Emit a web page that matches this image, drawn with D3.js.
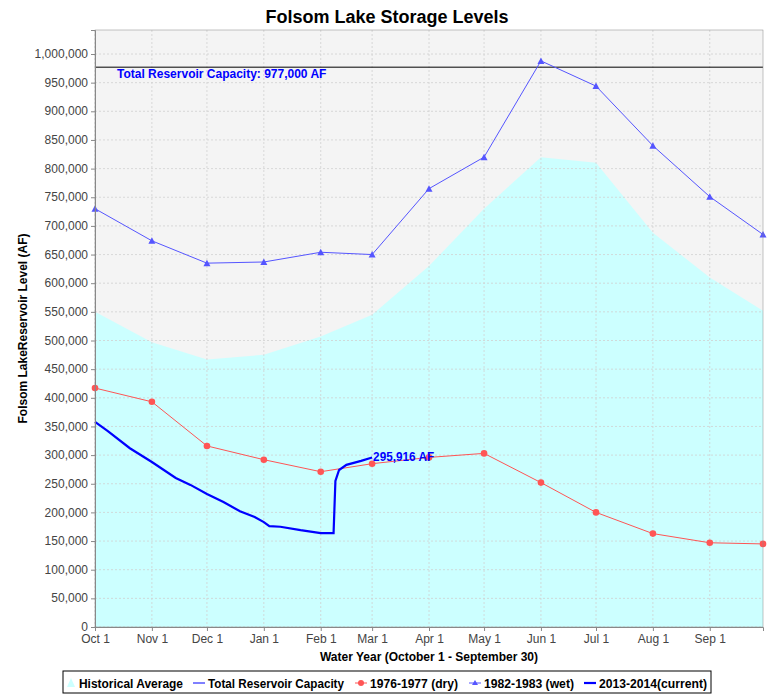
<!DOCTYPE html>
<html><head><meta charset="utf-8">
<script src="https://cdn.jsdelivr.net/npm/d3@7"></script>
<style>body{margin:0;background:#fff;font-family:"Liberation Sans",Arial,sans-serif}</style>
</head><body><svg id="c" width="775" height="700"></svg>
<script>
const monthTicks = ["2013-10-01","2013-11-01","2013-12-01","2014-01-01","2014-02-01","2014-03-01","2014-04-01","2014-05-01","2014-06-01","2014-07-01","2014-08-01","2014-09-01","2014-09-30"];
const tickLabels = ["Oct 1","Nov 1","Dec 1","Jan 1","Feb 1","Mar 1","Apr 1","May 1","Jun 1","Jul 1","Aug 1","Sep 1"];
const historicalAvg = [550000,497000,467000,475000,507000,545000,630000,730000,820000,810000,688000,610000,552000];
const dry7677 = [417000,393000,316000,292000,271000,285000,296000,303000,252000,200000,163000,147000,145000];
const wet8283 = [730000,674000,635000,637000,654000,650000,765000,820000,988000,944000,840000,751000,685000];
const currentDates = ["2013-10-01","2013-10-08","2013-10-20","2013-11-01","2013-11-14","2013-11-22","2013-12-01","2013-12-10","2013-12-19","2013-12-27","2014-01-01","2014-01-04","2014-01-10","2014-01-21","2014-02-01","2014-02-08","2014-02-09","2014-02-11","2014-02-15","2014-02-23","2014-03-01"];
const currentVals = [358000,342000,312000,288000,260000,248000,232000,218000,202000,192000,183000,176000,175000,169000,164000,164000,255000,274000,283000,290000,295916];
const capacity = 977000;

const svg = d3.select("#c");
const L=95,R=763,T=30,B=627;
const pt = d3.timeParse("%Y-%m-%d");
const x = d3.scaleTime().domain([pt(monthTicks[0]), pt(monthTicks[12])]).range([L,R]);
const y = d3.scaleLinear().domain([0, 1000000*(B-T)/573]).range([B,T]);

svg.append("rect").attr("x",L).attr("y",T).attr("width",R-L).attr("height",B-T).attr("fill","#f4f4f4");
const yt = d3.range(0,1000001,50000);
const md = monthTicks.map(pt);
svg.append("path").datum(historicalAvg).attr("fill","#ccffff")
  .attr("d", d3.area().x((d,i)=>x(md[i])).y0(B).y1(d=>y(d)));
yt.forEach(v=>svg.append("line").attr("x1",L).attr("x2",R).attr("y1",y(v)).attr("y2",y(v)).attr("stroke","#d0d0d0").attr("stroke-dasharray","2,2").attr("stroke-width",0.8));
md.slice(0,12).forEach(d=>svg.append("line").attr("x1",x(d)).attr("x2",x(d)).attr("y1",T).attr("y2",B).attr("stroke","#d0d0d0").attr("stroke-dasharray","2,2").attr("stroke-width",0.8));

svg.append("line").attr("x1",L).attr("x2",R).attr("y1",y(capacity)).attr("y2",y(capacity)).attr("stroke","#000");
svg.append("text").attr("x",117).attr("y",y(capacity)+11).attr("fill","#0000ff").attr("font-weight","bold").attr("font-size",12).text("Total Reservoir Capacity: 977,000 AF");

const line = d3.line().x((d,i)=>x(md[i])).y(d=>y(d));
svg.append("path").datum(dry7677).attr("d",line).attr("fill","none").attr("stroke","#ff5555").attr("stroke-width",1);
svg.selectAll(".dp").data(dry7677).join("circle").attr("cx",(d,i)=>x(md[i])).attr("cy",d=>y(d)).attr("r",3.3).attr("fill","#ff5555");
svg.append("path").datum(wet8283).attr("d",line).attr("fill","none").attr("stroke","#5555ff").attr("stroke-width",1);
svg.selectAll(".wp").data(wet8283).join("path").attr("transform",(d,i)=>`translate(${x(md[i])},${y(d)})`).attr("d","M0,-3.5L3.5,3L-3.5,3Z").attr("fill","#5555ff");

const cur = currentDates.map((d,i)=>[pt(d),currentVals[i]]);
svg.append("path").datum(cur).attr("d",d3.line().x(d=>x(d[0])).y(d=>y(d[1]))).attr("fill","none").attr("stroke","#0000ff").attr("stroke-width",2.2);
svg.append("text").attr("x",x(cur[cur.length-1][0])+1).attr("y",y(295916)+4).attr("fill","#0000ff").attr("font-weight","bold").attr("font-size",12).attr("textLength",61).attr("lengthAdjust","spacingAndGlyphs").text("295,916 AF");

const ya = svg.append("g").attr("transform",`translate(${L},0)`).call(d3.axisLeft(y).tickValues(yt).tickFormat(d3.format(",")).tickSize(4));
const xa = svg.append("g").attr("transform",`translate(0,${B})`).call(d3.axisBottom(x).tickValues(md.slice(0,12)).tickFormat((d,i)=>tickLabels[i]).tickSize(4));
[ya,xa].forEach(a=>{a.select(".domain").attr("stroke","#888");a.selectAll("line").attr("stroke","#888");a.selectAll("text").attr("font-size",12).attr("fill","#444").attr("font-family","Liberation Sans, Arial")});
ya.selectAll("text").attr("dy","0.3em");
svg.append("rect").attr("x",L).attr("y",T).attr("width",R-L).attr("height",B-T).attr("fill","none").attr("stroke","#888").attr("stroke-width",0.5);

svg.append("text").attr("x",387).attr("y",23).attr("text-anchor","middle").attr("font-weight","bold").attr("font-size",18).text("Folsom Lake Storage Levels");
svg.append("text").attr("x",429).attr("y",661).attr("text-anchor","middle").attr("font-weight","bold").attr("font-size",12).text("Water Year (October 1 - September 30)");
svg.append("text").attr("transform",`translate(27,${(T+B)/2}) rotate(-90)`).attr("text-anchor","middle").attr("font-weight","bold").attr("font-size",12).text("Folsom LakeReservoir Level (AF)");

const lg = svg.append("g");
lg.append("rect").attr("x",63).attr("y",671).attr("width",648).attr("height",22).attr("fill","#fff").attr("stroke","#000");
const items=[
 {t:"Historical Average",k:"tri",c:"#ccffff",m:66,tx:79,w:104},
 {t:"Total Reservoir Capacity",k:"line",c:"#0000ff",m:193,tx:208,w:136},
 {t:"1976-1977 (dry)",k:"dot",c:"#ff5555",m:355,tx:370,w:88},
 {t:"1982-1983 (wet)",k:"trib",c:"#5555ff",m:469,tx:484,w:90},
 {t:"2013-2014(current)",k:"thick",c:"#0000ff",m:584,tx:599,w:108}];
items.forEach(it=>{
  const cy=683, g=lg.append("g");
  if(it.k==="tri") g.append("path").attr("d",`M${it.m+5},${cy-5}L${it.m+9},${cy+4}L${it.m+1},${cy+4}Z`).attr("fill",it.c);
  else {
    g.append("line").attr("x1",it.m).attr("x2",it.m+12).attr("y1",cy).attr("y2",cy).attr("stroke",it.c).attr("stroke-width",it.k==="thick"?2.2:1);
    if(it.k==="dot") g.append("circle").attr("cx",it.m+6).attr("cy",cy).attr("r",3).attr("fill",it.c);
    if(it.k==="trib") g.append("path").attr("d",`M${it.m+6},${cy-3}L${it.m+9},${cy+2}L${it.m+3},${cy+2}Z`).attr("fill",it.c);
  }
  g.append("text").attr("x",it.tx).attr("y",cy+4.5).attr("font-size",12).attr("font-weight","bold").attr("textLength",it.w).attr("lengthAdjust","spacingAndGlyphs").text(it.t);
});
</script></body></html>
